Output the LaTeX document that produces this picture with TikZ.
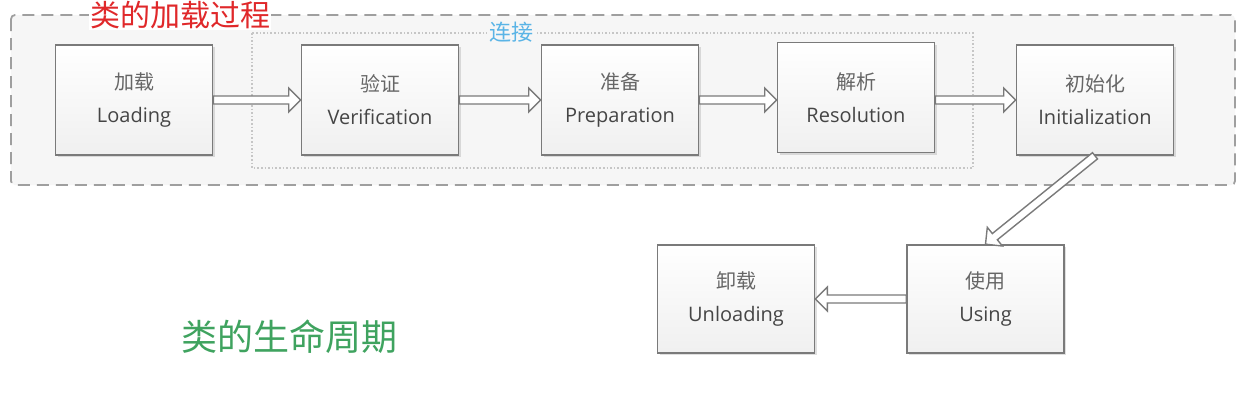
\documentclass[tikz,border=0pt]{standalone}
\usepackage{fontspec}
\setmainfont{Open Sans}
\newfontfamily\cjk{Noto Sans CJK SC}
\usetikzlibrary{calc,shadows}
\definecolor{txtgray}{HTML}{454545}
\definecolor{cjkgray}{HTML}{666666}
\definecolor{boxline}{HTML}{7A7A7A}
\definecolor{outerfill}{HTML}{F6F6F6}
\definecolor{titlered}{HTML}{E0282A}
\definecolor{linkblue}{HTML}{5AB4E6}
\definecolor{lifegreen}{HTML}{3FA35F}
\tikzset{
  stagebox/.style={draw=boxline, line width=1.6pt, top color=white, bottom color=gray!12,
    minimum width=157pt, minimum height=110pt, align=center, text=txtgray,
    font=\fontsize{20}{33}\selectfont,
    drop shadow={opacity=0.25, shadow xshift=2pt, shadow yshift=-2pt}},
  hollowarrow/.style={draw=boxline, fill=white, line width=1.4pt, line join=miter,
    to path={
      ($(\tikztostart)!4pt!90:(\tikztotarget)$)
      -- ($($(\tikztotarget)!12pt!(\tikztostart)$)!4pt!-90:(\tikztostart)$)
      -- ($($(\tikztotarget)!12pt!(\tikztostart)$)!12pt!-90:(\tikztostart)$)
      -- (\tikztotarget)
      -- ($($(\tikztotarget)!12pt!(\tikztostart)$)!12pt!90:(\tikztostart)$)
      -- ($($(\tikztotarget)!12pt!(\tikztostart)$)!4pt!90:(\tikztostart)$)
      -- ($(\tikztostart)!4pt!-90:(\tikztotarget)$)
      -- cycle}},
}
\newcommand{\zh}[1]{{\cjk\color{cjkgray}#1}}
\begin{document}
\begin{tikzpicture}[x=1pt,y=-1pt]
\useasboundingbox (0,0) rectangle (1254,416);
\fill[white] (0,0) rectangle (1254,416);
% outer dashed region
\draw[draw=gray!75, fill=outerfill, line width=1.8pt, dash pattern=on 12pt off 7pt, rounded corners=4pt]
  (11,15) rectangle (1235,185);
% inner dotted region
\draw[draw=gray!45, line width=1.6pt, dotted] (252,33) rectangle (973,168);
\node[fill=outerfill, inner sep=2pt, text=linkblue, font=\cjk\fontsize{22}{22}\selectfont] (lbl) at (511,32) {连接};
\node[fill=white, inner sep=1pt, text=titlered, font=\cjk\fontsize{30}{30}\selectfont] (title) at (180,15) {类的加载过程};
% stages
\node[stagebox] (load) at (134,100) {\zh{加载}\\Loading};
\node[stagebox] (ver)  at (380,100) {\zh{验证}\\Verification};
\node[stagebox] (prep) at (620,100) {\zh{准备}\\Preparation};
\node[stagebox] (res)  at (856,97.5) {\zh{解析}\\Resolution};
\node[stagebox] (init) at (1095,100) {\zh{初始化}\\Initialization};
\node[stagebox, minimum height=108pt] (using) at (985.5,299) {\zh{使用}\\Using};
\node[stagebox, minimum height=108pt] (unl) at (736,299) {\zh{卸载}\\Unloading};
% arrows
\draw[hollowarrow] (load.east) to (ver.west);
\draw[hollowarrow] (ver.east) to (prep.west);
\draw[hollowarrow] (prep.east) to (res.west |- prep.east);
\draw[hollowarrow] (res.east |- init.west) to (init.west);
\draw[hollowarrow] (init.south) to (using.north);
\draw[hollowarrow] (using.west) to (unl.east);
% life cycle label
\node[text=lifegreen, font=\cjk\fontsize{36}{36}\selectfont] (life) at (289,337) {类的生命周期};
\end{tikzpicture}
\end{document}
